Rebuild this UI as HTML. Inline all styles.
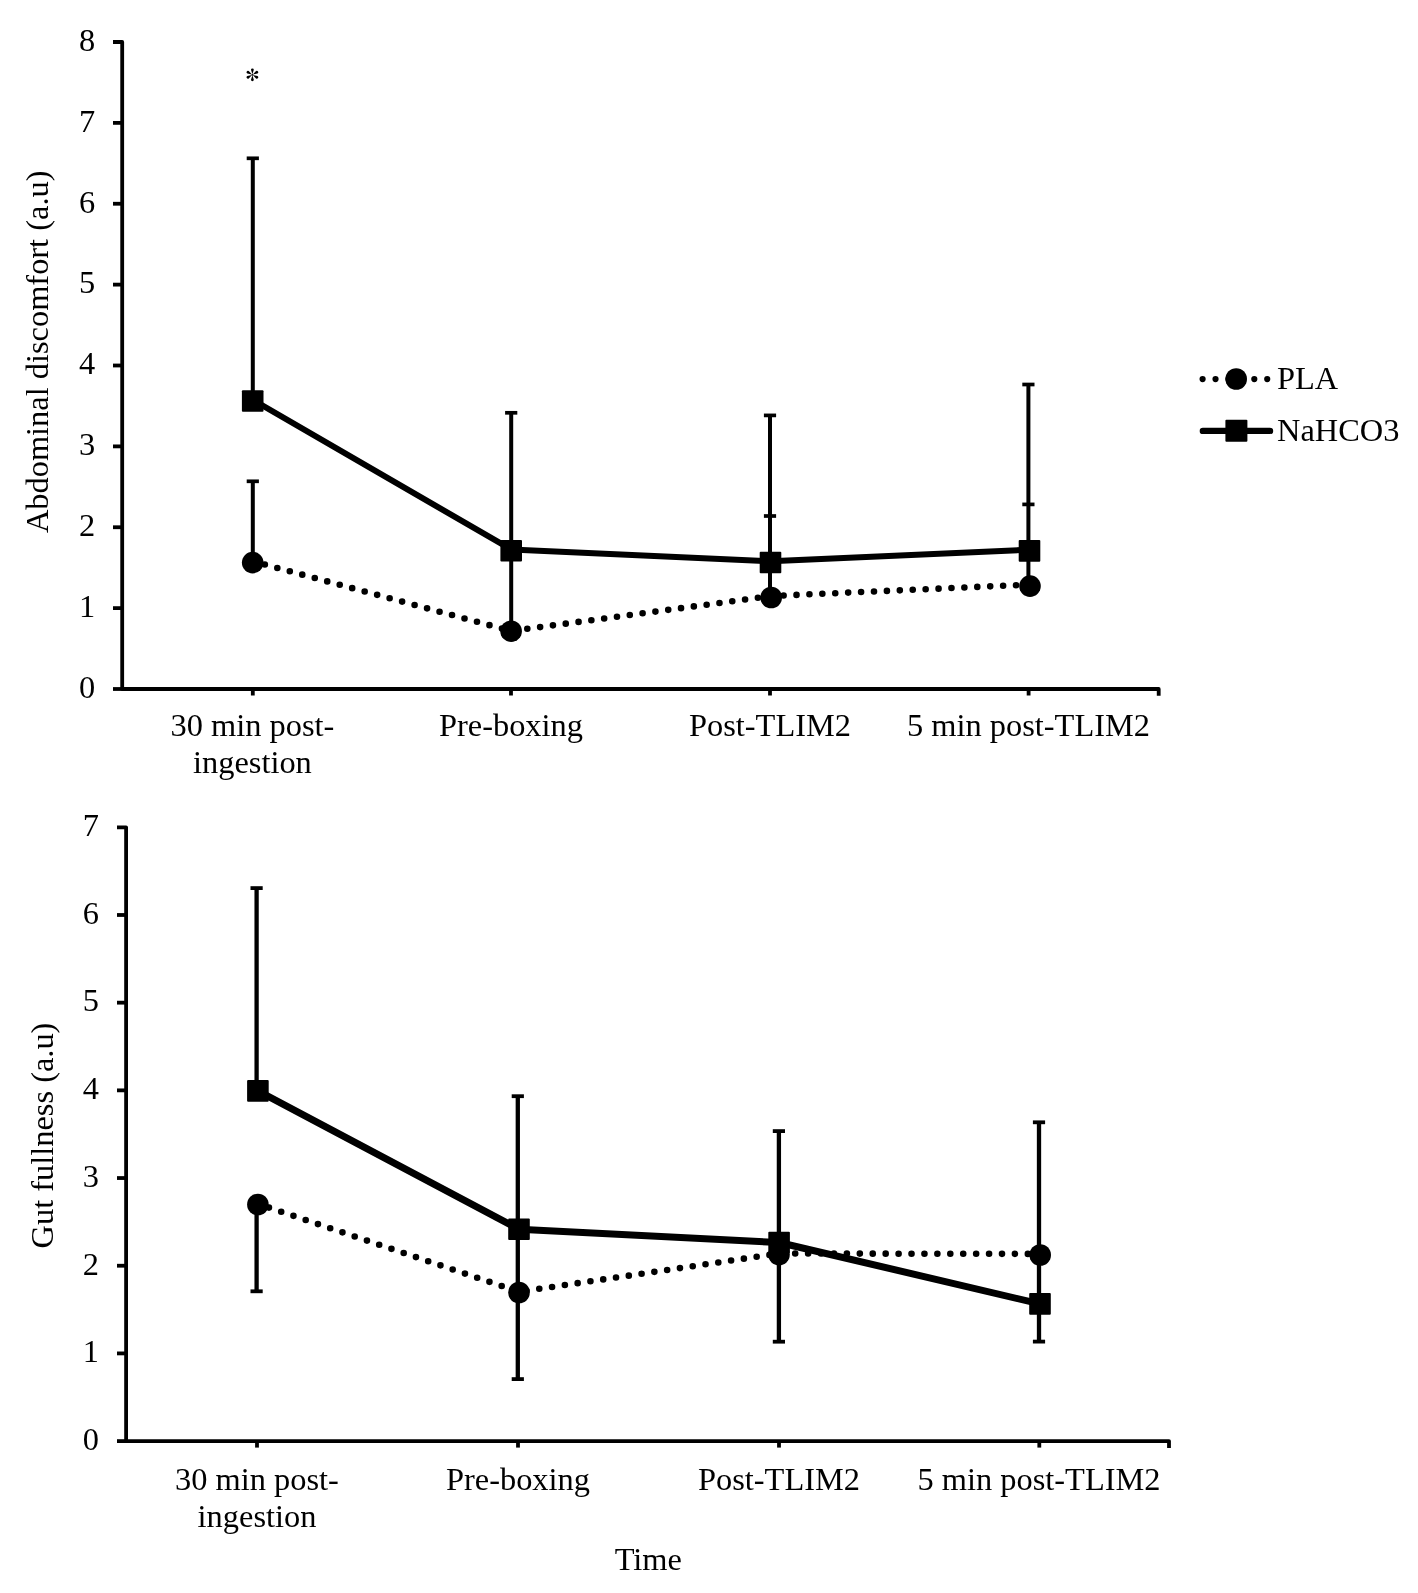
<!DOCTYPE html><html><head><meta charset="utf-8"><style>html,body{margin:0;padding:0;background:#fff;}svg{display:block;} svg{will-change:transform;}</style></head><body>
<svg width="1418" height="1593" viewBox="0 0 1418 1593">
<rect width="1418" height="1593" fill="#fff"/>
<g stroke="#000" stroke-width="3.8" fill="none" stroke-linejoin="round">
<polyline points="113.0,42.0 122.2,42.0 122.2,689.0 1158.6999999999998,689.0 1158.6999999999998,695.8"/>
<line x1="113.0" y1="689.00" x2="122.2" y2="689.00"/>
<line x1="113.0" y1="608.12" x2="122.2" y2="608.12"/>
<line x1="113.0" y1="527.25" x2="122.2" y2="527.25"/>
<line x1="113.0" y1="446.38" x2="122.2" y2="446.38"/>
<line x1="113.0" y1="365.50" x2="122.2" y2="365.50"/>
<line x1="113.0" y1="284.62" x2="122.2" y2="284.62"/>
<line x1="113.0" y1="203.75" x2="122.2" y2="203.75"/>
<line x1="113.0" y1="122.88" x2="122.2" y2="122.88"/>
<line x1="252.8" y1="689.0" x2="252.8" y2="695.5"/>
<line x1="511.0" y1="689.0" x2="511.0" y2="695.5"/>
<line x1="770.0" y1="689.0" x2="770.0" y2="695.5"/>
<line x1="1028.6" y1="689.0" x2="1028.6" y2="695.5"/>
</g>
<g font-family="'Liberation Serif', serif" font-size="32.4" fill="#000" text-anchor="end">
<text x="95.3" y="697.80">0</text>
<text x="95.3" y="616.92">1</text>
<text x="95.3" y="536.05">2</text>
<text x="95.3" y="455.18">3</text>
<text x="95.3" y="374.30">4</text>
<text x="95.3" y="293.43">5</text>
<text x="95.3" y="212.55">6</text>
<text x="95.3" y="131.68">7</text>
<text x="95.3" y="50.80">8</text>
</g>
<g stroke="#000" fill="none">
<line x1="252.8" y1="158.3" x2="252.8" y2="401.0" stroke-width="4.0"/>
<line x1="246.70000000000002" y1="158.3" x2="258.90000000000003" y2="158.3" stroke-width="3.7"/>
<line x1="252.8" y1="481.3" x2="252.8" y2="562.6" stroke-width="4.0"/>
<line x1="246.70000000000002" y1="481.3" x2="258.90000000000003" y2="481.3" stroke-width="3.7"/>
<line x1="511.2" y1="412.8" x2="511.2" y2="631.2" stroke-width="4.0"/>
<line x1="505.09999999999997" y1="412.8" x2="517.3" y2="412.8" stroke-width="3.7"/>
<line x1="770.0" y1="415.4" x2="770.0" y2="597.5" stroke-width="4.0"/>
<line x1="763.9" y1="415.4" x2="776.1" y2="415.4" stroke-width="3.7"/>
<line x1="763.9" y1="516.0" x2="776.1" y2="516.0" stroke-width="3.7"/>
<line x1="1028.4" y1="384.5" x2="1028.4" y2="586.1" stroke-width="4.0"/>
<line x1="1022.3000000000001" y1="384.5" x2="1034.5" y2="384.5" stroke-width="3.7"/>
<line x1="1022.3000000000001" y1="504.4" x2="1034.5" y2="504.4" stroke-width="3.7"/>
</g>
<polyline points="252.7,561.30 511.1,631.00 771.2,596.00 1030.0,584.60" fill="none" stroke="#000" stroke-width="6.6" stroke-linecap="round" stroke-dasharray="0 12.925" stroke-dashoffset="0.35"/>
<circle cx="252.7" cy="562.6" r="10.8" fill="#000"/>
<circle cx="511.1" cy="631.2" r="10.8" fill="#000"/>
<circle cx="771.2" cy="597.5" r="10.8" fill="#000"/>
<circle cx="1030.0" cy="586.1" r="10.8" fill="#000"/>
<polyline points="252.7,399.80 511.2,549.50 770.5,561.30 1029.5,549.70" fill="none" stroke="#000" stroke-width="6.0" stroke-linejoin="round"/>
<rect x="241.90" y="390.20" width="21.6" height="21.6" rx="1" fill="#000"/>
<rect x="500.40" y="539.90" width="21.6" height="21.6" rx="1" fill="#000"/>
<rect x="759.70" y="551.70" width="21.6" height="21.6" rx="1" fill="#000"/>
<rect x="1018.70" y="540.10" width="21.6" height="21.6" rx="1" fill="#000"/>
<g font-family="'Liberation Serif', serif" font-size="32.4" fill="#000" text-anchor="middle">
<text x="252.4" y="736.20">30 min post-</text>
<text x="252.4" y="773.40">ingestion</text>
<text x="511.0" y="736.20">Pre-boxing</text>
<text x="770.0" y="736.20">Post-TLIM2</text>
<text x="1028.5" y="736.20">5 min post-TLIM2</text>
</g>
<text font-family="'Liberation Serif', serif" font-size="32.4" fill="#000" text-anchor="middle" transform="translate(47.7,351.8) rotate(-90)">Abdominal discomfort (a.u)</text>
<path fill="#000" d="M252.40,74.30 L253.80,69.80 A1.4,1.4 0 1 0 251.00,69.80 Z M252.83,74.55 L257.43,73.51 A1.4,1.4 0 1 0 256.03,71.09 Z M252.83,75.05 L256.03,78.51 A1.4,1.4 0 1 0 257.43,76.09 Z M252.40,75.30 L251.00,79.80 A1.4,1.4 0 1 0 253.80,79.80 Z M251.97,74.55 L248.77,71.09 A1.4,1.4 0 1 0 247.37,73.51 Z M251.97,75.05 L247.37,76.09 A1.4,1.4 0 1 0 248.77,78.51 Z"/>
<circle cx="252.4" cy="74.8" r="0.9" fill="#000"/>
<g stroke="#000" stroke-width="3.8" fill="none" stroke-linejoin="round">
<polyline points="117.0,827.3 126.1,827.3 126.1,1441.1 1169.0,1441.1 1169.0,1447.8999999999999"/>
<line x1="117.0" y1="1441.10" x2="126.1" y2="1441.10"/>
<line x1="117.0" y1="1353.41" x2="126.1" y2="1353.41"/>
<line x1="117.0" y1="1265.73" x2="126.1" y2="1265.73"/>
<line x1="117.0" y1="1178.04" x2="126.1" y2="1178.04"/>
<line x1="117.0" y1="1090.36" x2="126.1" y2="1090.36"/>
<line x1="117.0" y1="1002.67" x2="126.1" y2="1002.67"/>
<line x1="117.0" y1="914.99" x2="126.1" y2="914.99"/>
<line x1="257.0" y1="1441.1" x2="257.0" y2="1447.6"/>
<line x1="518.0" y1="1441.1" x2="518.0" y2="1447.6"/>
<line x1="779.0" y1="1441.1" x2="779.0" y2="1447.6"/>
<line x1="1039.3" y1="1441.1" x2="1039.3" y2="1447.6"/>
</g>
<g font-family="'Liberation Serif', serif" font-size="32.4" fill="#000" text-anchor="end">
<text x="99.0" y="1449.90">0</text>
<text x="99.0" y="1362.21">1</text>
<text x="99.0" y="1274.53">2</text>
<text x="99.0" y="1186.84">3</text>
<text x="99.0" y="1099.16">4</text>
<text x="99.0" y="1011.47">5</text>
<text x="99.0" y="923.79">6</text>
<text x="99.0" y="836.10">7</text>
</g>
<g stroke="#000" fill="none">
<line x1="256.6" y1="888.1" x2="256.6" y2="1090.9" stroke-width="4.3"/>
<line x1="250.50000000000003" y1="888.1" x2="262.70000000000005" y2="888.1" stroke-width="3.8"/>
<line x1="256.6" y1="1204.5" x2="256.6" y2="1291.3" stroke-width="4.3"/>
<line x1="250.50000000000003" y1="1291.3" x2="262.70000000000005" y2="1291.3" stroke-width="3.8"/>
<line x1="517.8" y1="1096.2" x2="517.8" y2="1379.1" stroke-width="4.3"/>
<line x1="511.69999999999993" y1="1096.2" x2="523.9" y2="1096.2" stroke-width="3.8"/>
<line x1="511.69999999999993" y1="1379.1" x2="523.9" y2="1379.1" stroke-width="3.8"/>
<line x1="778.9" y1="1131.1" x2="778.9" y2="1341.7" stroke-width="4.3"/>
<line x1="772.8" y1="1131.1" x2="785.0" y2="1131.1" stroke-width="3.8"/>
<line x1="772.8" y1="1341.7" x2="785.0" y2="1341.7" stroke-width="3.8"/>
<line x1="1039.0" y1="1122.3" x2="1039.0" y2="1341.6" stroke-width="4.3"/>
<line x1="1032.9" y1="1122.3" x2="1045.1" y2="1122.3" stroke-width="3.8"/>
<line x1="1032.9" y1="1341.6" x2="1045.1" y2="1341.6" stroke-width="3.8"/>
</g>
<polyline points="257.9,1203.90 519.0,1291.80 779.0,1253.50 1040.2,1253.90" fill="none" stroke="#000" stroke-width="6.6" stroke-linecap="round" stroke-dasharray="0 12.925" stroke-dashoffset="1.27"/>
<circle cx="257.9" cy="1204.5" r="10.8" fill="#000"/>
<circle cx="519.0" cy="1292.5" r="10.8" fill="#000"/>
<circle cx="779.0" cy="1254.6" r="10.8" fill="#000"/>
<circle cx="1040.2" cy="1255.0" r="10.8" fill="#000"/>
<polyline points="257.9,1090.90 519.0,1229.30 779.1,1242.50 1040.0,1303.90" fill="none" stroke="#000" stroke-width="7.0" stroke-linejoin="round"/>
<rect x="247.10" y="1080.10" width="21.6" height="21.6" rx="1" fill="#000"/>
<rect x="508.20" y="1218.50" width="21.6" height="21.6" rx="1" fill="#000"/>
<rect x="768.30" y="1231.70" width="21.6" height="21.6" rx="1" fill="#000"/>
<rect x="1029.20" y="1293.10" width="21.6" height="21.6" rx="1" fill="#000"/>
<g font-family="'Liberation Serif', serif" font-size="32.4" fill="#000" text-anchor="middle">
<text x="257.0" y="1490.00">30 min post-</text>
<text x="257.0" y="1527.20">ingestion</text>
<text x="518.0" y="1490.00">Pre-boxing</text>
<text x="779.0" y="1490.00">Post-TLIM2</text>
<text x="1039.0" y="1490.00">5 min post-TLIM2</text>
</g>
<text font-family="'Liberation Serif', serif" font-size="32.4" fill="#000" text-anchor="middle" transform="translate(53.2,1135.5) rotate(-90)">Gut fullness (a.u)</text>
<text font-family="'Liberation Serif', serif" font-size="32.4" fill="#000" text-anchor="middle" x="648.3" y="1569.8">Time</text>
<polyline points="1202.6,379.1 1267.5,379.1" fill="none" stroke="#000" stroke-width="6.2" stroke-linecap="round" stroke-dasharray="0 12.925"/>
<circle cx="1236.2" cy="379" r="10.8" fill="#000"/>
<text font-family="'Liberation Serif', serif" font-size="32.4" fill="#000" x="1277.0" y="388.9">PLA</text>
<line x1="1202.9" y1="430.9" x2="1270" y2="430.9" stroke="#000" stroke-width="6.4" stroke-linecap="round"/>
<rect x="1225.4" y="419.8" width="22" height="22" rx="1" fill="#000"/>
<text font-family="'Liberation Serif', serif" font-size="32.4" fill="#000" x="1277.0" y="440.6">NaHCO3</text>
</svg></body></html>
